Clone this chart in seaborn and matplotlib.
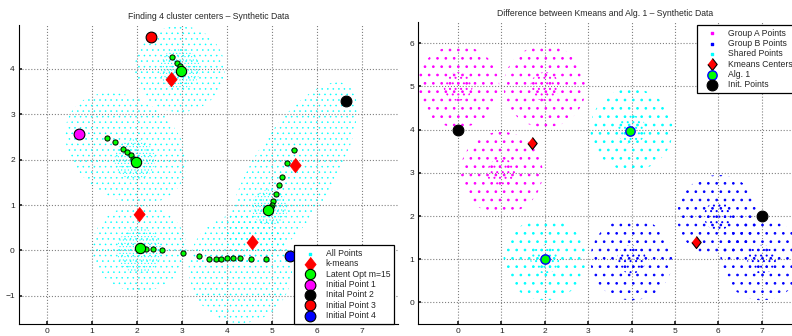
import seaborn as sns
import matplotlib.pyplot as plt
from matplotlib.patches import Ellipse

# ---- left panel: k-means vs latent optimisation ----
# point clouds, summarised as ellipses (centre, extent, tilt)
left_cloud_x = [2.95, 1.75, 2.05, 4.30, 5.45]
left_cloud_y = [4.00, 2.25, 0.05, -0.40, 1.70]
left_cloud_w = [2.0, 2.9, 2.1, 2.3, 4.6]
left_cloud_h = [1.9, 2.2, 1.9, 2.4, 1.8]
left_cloud_ang = [0, -35, 0, 0, 58]
# denser cores of the clouds
left_core_x = [2.95, 1.95, 2.05, 4.95]
left_core_y = [4.00, 2.00, 0.00, 0.95]
left_core_d = [0.9, 0.9, 1.0, 0.8]

kmeans_x = [2.76, 5.52, 2.05, 4.56]
kmeans_y = [3.79, 1.88, 0.80, 0.19]

latent_x = [2.98, 1.98, 4.92, 2.06]
latent_y = [3.96, 1.95, 0.90, 0.06]

# intermediate iterates of the latent optimisation
path_x = [2.78, 2.90, 2.96,
          1.33, 1.52, 1.70, 1.78, 1.86, 1.92,
          5.49, 5.34, 5.22, 5.16, 5.10, 5.03, 5.00, 4.97,
          2.21, 2.36, 2.55, 3.02, 3.38, 3.61, 3.76, 3.87, 4.00, 4.13, 4.28, 4.53, 4.87]
path_y = [4.26, 4.13, 4.06,
          2.49, 2.38, 2.23, 2.17, 2.10, 2.02,
          2.21, 1.92, 1.63, 1.44, 1.24, 1.09, 1.01, 0.95,
          0.04, 0.03, 0.00, -0.05, -0.12, -0.18, -0.18, -0.18, -0.17, -0.16, -0.17, -0.19, -0.18]

init_x = [0.72, 6.64, 2.32, 5.39]
init_y = [2.57, 3.30, 4.70, -0.12]
init_labels = ['Initial Point 1', 'Inital Point 2', 'Initial Point 3', 'Initial Point 4']
init_colors = ['#FF00FF', 'black', 'red', 'blue']

# ---- right panel: Kmeans vs Alg. 1 ----
group_a_x = [0, 2, 1]
group_a_y = [5, 5, 3]
group_b_x = [4, 6, 7]
group_b_y = [1, 2, 1]
shared_x = [4, 2]
shared_y = [4, 1]
cloud_d = 1.9   # cloud diameter

km2_x = [1.70, 5.48]
km2_y = [3.68, 1.41]
alg_x = [3.97, 2.00]
alg_y = [3.98, 1.00]
init2_x = [0, 7]
init2_y = [4, 2]

sns.set_theme(style='ticks')
plt.rcParams['font.family'] = ['Liberation Sans', 'DejaVu Sans']

diamond = [(0, 1), (0.78, 0), (0, -1), (-0.78, 0)]

fig = plt.figure(figsize=(7.92, 3.36), dpi=100)
ax1 = fig.add_axes([0.024, 0.0357, 0.4785, 0.89])
ax2 = fig.add_axes([0.528, 0.0357, 0.472, 0.8997])


def cloud(ax, x, y, w, h, ang, color, hatch):
    ax.add_patch(Ellipse((x, y), w, h, angle=ang, fill=False, hatch=hatch,
                         edgecolor=color, linewidth=0, zorder=1))


# left
plt.rcParams['hatch.linewidth'] = 0.35
for x, y, w, h, a in zip(left_cloud_x, left_cloud_y, left_cloud_w, left_cloud_h, left_cloud_ang):
    cloud(ax1, x, y, w, h, a, '#00FFFF', '...')
for x, y, d in zip(left_core_x, left_core_y, left_core_d):
    cloud(ax1, x, y, d, d, 0, '#00FFFF', '.....')

ax1.scatter([], [], s=3, marker='s', color='#00FFFF', label='All Points')
sns.scatterplot(x=kmeans_x, y=kmeans_y, marker=diamond, s=110, color='red',
                edgecolor='red', linewidth=0.5, label='k-means', ax=ax1, zorder=4)
sns.scatterplot(x=path_x, y=path_y, s=14, color='#00FF00', edgecolor='black',
                linewidth=0.7, ax=ax1, zorder=3)
sns.scatterplot(x=latent_x, y=latent_y, s=55, color='#00FF00', edgecolor='black',
                linewidth=0.8, label='Latent Opt m=15', ax=ax1, zorder=4)
for x, y, c, lab in zip(init_x, init_y, init_colors, init_labels):
    sns.scatterplot(x=[x], y=[y], s=60, color=c, edgecolor='black',
                    linewidth=0.8, label=lab, ax=ax1, zorder=4)

ax1.set_xlim(-0.62, 7.8)
ax1.set_ylim(-1.62, 4.97)
ax1.set_xticks(range(0, 8))
ax1.set_yticks(range(-1, 5))
ax1.set_title('Finding 4 cluster centers \u2013 Synthetic Data', fontsize=6.2, pad=4)

# right
plt.rcParams['hatch.linewidth'] = 0.7
for gx, gy, col in [(group_a_x, group_a_y, '#FF00FF'),
                    (group_b_x, group_b_y, 'blue'),
                    (shared_x, shared_y, '#00FFFF')]:
    for x, y in zip(gx, gy):
        cloud(ax2, x, y, cloud_d, cloud_d, 0, col, '..')
        cloud(ax2, x, y, cloud_d * 0.35, cloud_d * 0.35, 0, col, '...')

ax2.scatter([], [], s=3, marker='s', color='#FF00FF', label='Group A Points')
ax2.scatter([], [], s=3, marker='s', color='blue', label='Group B Points')
ax2.scatter([], [], s=3, marker='s', color='#00FFFF', label='Shared Points')
sns.scatterplot(x=km2_x, y=km2_y, marker=diamond, s=75, color='red',
                edgecolor='black', linewidth=0.8, label='Kmeans Centers', ax=ax2, zorder=4)
sns.scatterplot(x=alg_x, y=alg_y, s=45, color='#00FF00', edgecolor='blue',
                linewidth=1.0, label='Alg. 1', ax=ax2, zorder=4)
sns.scatterplot(x=init2_x, y=init2_y, s=60, color='black', edgecolor='black',
                linewidth=0.8, label='Init. Points', ax=ax2, zorder=4)

ax2.set_xlim(-0.92, 7.7)
ax2.set_ylim(-0.5, 6.5)
ax2.set_xticks(range(0, 8))
ax2.set_yticks(range(0, 7))
ax2.set_title('Difference between Kmeans and Alg. 1 \u2013 Synthetic Data', fontsize=6.2, pad=4)

for ax in (ax1, ax2):
    sns.despine(ax=ax)
    ax.grid(True, linestyle=':', color='#808080', linewidth=0.8)
    ax.tick_params(labelsize=6, direction='in', length=2, pad=3, colors='#222222')
    for s in ('left', 'bottom'):
        ax.spines[s].set_color('black')
        ax.spines[s].set_linewidth(0.8)

leg_kw = dict(fontsize=6.2, frameon=True, fancybox=False, framealpha=1, edgecolor='black',
              handlelength=2.75, handletextpad=0.45, borderpad=0.45, labelspacing=0.16,
              scatterpoints=1, borderaxespad=0)
l1 = ax1.legend(loc='lower right', bbox_to_anchor=(0.99, 0.0), **leg_kw)
l2 = ax2.legend(loc='upper left', bbox_to_anchor=(0.745, 0.99), **leg_kw)
for lg in (l1, l2):
    lg.get_frame().set_linewidth(0.9)

fig.savefig('out.png', dpi=100)
